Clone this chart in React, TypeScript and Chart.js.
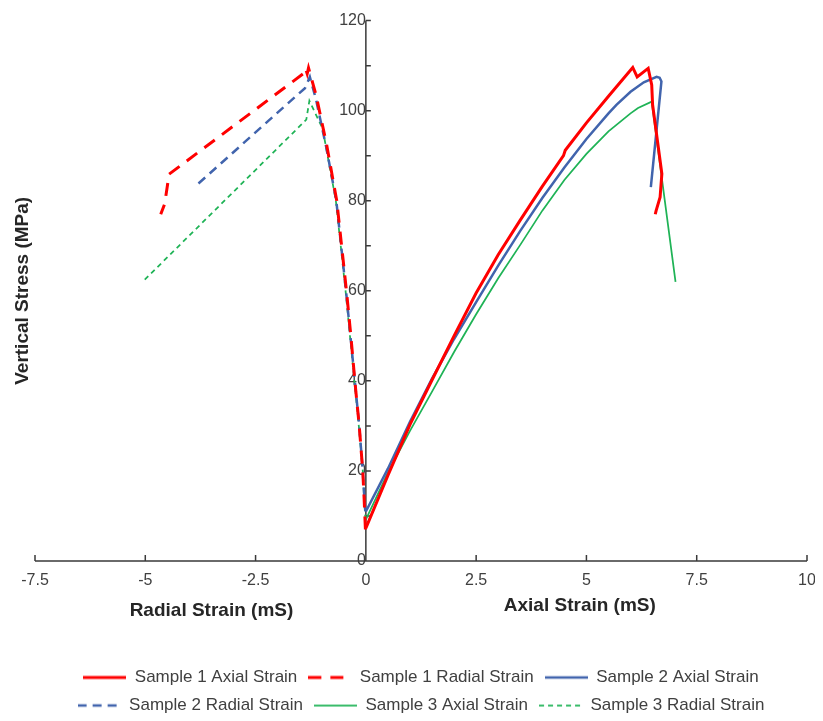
import { useEffect, useRef } from "react";
import { Chart, registerables } from "chart.js";

Chart.register(...registerables);

// Sample 1 – axial strain (mS) vs vertical stress (MPa)
const s1AxialStrain = [0.0, 0.5, 1.0, 1.5, 2.0, 2.5, 3.0, 3.5, 4.0, 4.48, 4.52, 5.0, 5.5, 6.05, 6.15, 6.4, 6.48, 6.5, 6.71, 6.67, 6.58, 6.56];
const s1AxialStress = [7.3, 19.0, 30.3, 40.2, 50.0, 59.5, 68.0, 75.7, 83.2, 90.0, 91.2, 97.3, 103.2, 109.6, 107.5, 109.4, 105.7, 101.3, 86.0, 80.8, 77.8, 77.0];

// Sample 1 – radial strain
const s1RadialStrain = [-0.01, -0.04, -0.07, -0.15, -0.25, -0.34, -0.44, -0.55, -0.66, -0.89, -1.13, -1.3, -1.33, -1.37, -1.42, -4.46, -4.56, -4.65];
const s1RadialStress = [7.0, 14.0, 20.0, 30.0, 40.0, 50.0, 60.0, 70.0, 80.0, 92.5, 103.5, 109.5, 108.2, 109.4, 108.2, 85.9, 79.3, 77.0];

// Sample 2 – axial strain
const s2AxialStrain = [0.0, 0.5, 1.0, 1.5, 2.0, 2.5, 3.0, 3.5, 4.0, 4.5, 5.0, 5.5, 5.68, 6.0, 6.3, 6.59, 6.66, 6.7, 6.46];
const s2AxialStress = [11.0, 20.5, 30.9, 40.5, 49.3, 57.5, 65.6, 73.3, 80.6, 87.4, 93.7, 99.4, 101.3, 104.2, 106.3, 107.5, 107.3, 106.5, 83.0];

// Sample 2 – radial strain
const s2RadialStrain = [-0.01, -0.04, -0.07, -0.15, -0.25, -0.35, -0.45, -0.56, -0.67, -0.9, -1.13, -1.27, -1.38, -3.89];
const s2RadialStress = [11.0, 15.0, 20.0, 30.0, 40.0, 50.0, 60.0, 70.0, 80.0, 92.0, 102.5, 107.5, 105.0, 83.0];

// Sample 3 – axial strain
const s3AxialStrain = [0.0, 0.5, 1.0, 1.5, 2.0, 2.5, 3.0, 3.5, 4.0, 4.5, 5.0, 5.5, 6.0, 6.17, 6.48, 7.02];
const s3AxialStress = [9.2, 19.6, 28.9, 37.6, 46.4, 54.8, 62.8, 70.2, 77.8, 84.6, 90.4, 95.4, 99.4, 100.6, 102.0, 62.0];

// Sample 3 – radial strain
const s3RadialStrain = [-0.01, -0.04, -0.07, -0.16, -0.26, -0.36, -0.46, -0.57, -0.68, -0.98, -1.28, -1.35, -5.06];
const s3RadialStress = [9.2, 14.0, 20.0, 30.0, 40.0, 50.0, 60.0, 70.0, 80.0, 96.0, 102.2, 98.0, 62.0];

const seriesLabels = [
  "Sample 1 Axial Strain",
  "Sample 1 Radial Strain",
  "Sample 2 Axial Strain",
  "Sample 2 Radial Strain",
  "Sample 3 Axial Strain",
  "Sample 3 Radial Strain",
];

const X_MIN = -7.5;
const X_MAX = 10;
const X_STEP = 2.5;
const Y_MIN = 0;
const Y_MAX = 120;
const Y_STEP = 20;
const Y_MINOR_STEP = 10;

const Y_TITLE = "Vertical Stress (MPa)";
const X_TITLE_RADIAL = "Radial Strain (mS)";
const X_TITLE_AXIAL = "Axial Strain (mS)";

const FONT = "'Liberation Sans', Arial, sans-serif";
const TEXT = "#404040";
const AXIS = "#3a3a3a";
const RED = "#ff0000";
const BLUE = "#4164ad";
const GREEN = "#1fb356";

const MARKER_W = 43;

const toPoints = (xs: number[], ys: number[]) => xs.map((x, i) => ({ x, y: ys[i] }));

// Small canvas holding a line sample, used as the legend marker
function makeMarker(color: string, width: number, dash: number[]) {
  const c = document.createElement("canvas");
  c.width = MARKER_W;
  c.height = 8;
  const g = c.getContext("2d")!;
  g.strokeStyle = color;
  g.lineWidth = width;
  g.setLineDash(dash);
  g.beginPath();
  g.moveTo(0, 4);
  g.lineTo(MARKER_W, 4);
  g.stroke();
  return c;
}

// Axis lines crossing at the origin, with their small tick marks, plus the titles
const crossAxesPlugin = {
  id: "crossAxes",
  beforeDatasetsDraw(chart: any) {
    const { ctx } = chart;
    const xs = chart.scales.x;
    const ys = chart.scales.y;
    const x0 = xs.getPixelForValue(0);
    const y0 = ys.getPixelForValue(Y_MIN);
    const yTop = ys.getPixelForValue(Y_MAX);
    ctx.save();
    ctx.strokeStyle = AXIS;
    ctx.lineWidth = 1.5;
    ctx.beginPath();
    ctx.moveTo(xs.left, y0);
    ctx.lineTo(xs.right, y0);
    ctx.moveTo(x0, yTop);
    ctx.lineTo(x0, y0);
    xs.ticks.forEach((t: any) => {
      const px = xs.getPixelForValue(t.value);
      ctx.moveTo(px, y0);
      ctx.lineTo(px, y0 - 6);
    });
    for (let v = Y_MIN + Y_MINOR_STEP; v <= Y_MAX + 1e-9; v += Y_MINOR_STEP) {
      const py = ys.getPixelForValue(v);
      ctx.moveTo(x0, py);
      ctx.lineTo(x0 + 5, py);
    }
    ctx.stroke();
    ctx.restore();
  },
  afterDraw(chart: any) {
    const { ctx, chartArea } = chart;
    const xs = chart.scales.x;
    const ys = chart.scales.y;
    ctx.save();
    ctx.fillStyle = "#262626";
    ctx.font = `bold 19px ${FONT}`;
    ctx.textAlign = "center";
    ctx.textBaseline = "middle";
    ctx.fillText(X_TITLE_RADIAL, xs.getPixelForValue(-3.5), chartArea.bottom + 50);
    ctx.fillText(X_TITLE_AXIAL, xs.getPixelForValue(4.85), chartArea.bottom + 45);
    ctx.translate(15, ys.getPixelForValue((Y_MIN + Y_MAX) / 2));
    ctx.rotate(-Math.PI / 2);
    ctx.fillText(Y_TITLE, 0, 0);
    ctx.restore();
  },
};

export default function App() {
  const canvasRef = useRef<HTMLCanvasElement | null>(null);

  useEffect(() => {
    if (!canvasRef.current) return;
    const datasets = [
      { label: seriesLabels[0], data: toPoints(s1AxialStrain, s1AxialStress), borderColor: RED, borderWidth: 3, borderDash: [] as number[] },
      { label: seriesLabels[1], data: toPoints(s1RadialStrain, s1RadialStress), borderColor: RED, borderWidth: 3, borderDash: [13, 9] },
      { label: seriesLabels[2], data: toPoints(s2AxialStrain, s2AxialStress), borderColor: BLUE, borderWidth: 2.5, borderDash: [] as number[] },
      { label: seriesLabels[3], data: toPoints(s2RadialStrain, s2RadialStress), borderColor: BLUE, borderWidth: 2.5, borderDash: [9, 6] },
      { label: seriesLabels[4], data: toPoints(s3AxialStrain, s3AxialStress), borderColor: GREEN, borderWidth: 1.75, borderDash: [] as number[] },
      { label: seriesLabels[5], data: toPoints(s3RadialStrain, s3RadialStress), borderColor: GREEN, borderWidth: 1.75, borderDash: [5, 4] },
    ];
    const markers = datasets.map((d) => makeMarker(d.borderColor, d.borderWidth, d.borderDash));

    const chart = new Chart(canvasRef.current, {
      type: "scatter",
      data: {
        datasets: datasets.map((d) => ({
          ...d,
          backgroundColor: d.borderColor,
          showLine: true,
          pointRadius: 0,
          pointHoverRadius: 0,
          tension: 0,
          fill: false,
        })),
      },
      options: {
        responsive: false,
        animation: false,
        devicePixelRatio: 1,
        layout: { padding: { left: 27, right: 8, top: 7, bottom: 0 } },
        plugins: {
          tooltip: { enabled: false },
          legend: {
            position: "bottom",
            labels: {
              usePointStyle: true,
              pointStyleWidth: MARKER_W,
              padding: 11,
              color: TEXT,
              font: { family: FONT, size: 17 },
              generateLabels: (c: any) =>
                Chart.defaults.plugins.legend.labels
                  .generateLabels(c)
                  .map((item: any, i: number) => ({ ...item, pointStyle: markers[i], rotation: 0 })),
            },
          },
        },
        scales: {
          x: {
            type: "linear",
            position: "bottom",
            min: X_MIN,
            max: X_MAX,
            grid: { display: false, drawTicks: false },
            border: { display: false },
            ticks: { stepSize: X_STEP, padding: 10, color: TEXT, font: { family: FONT, size: 16 } },
            afterFit: (scale: any) => {
              scale.height = 97;
              scale.paddingLeft = 0;
              scale.paddingRight = 0;
            },
          },
          y: {
            type: "linear",
            position: { x: 0 },
            min: Y_MIN,
            max: Y_MAX,
            grid: { display: false, drawTicks: false },
            border: { display: false },
            ticks: { stepSize: Y_STEP, color: TEXT, font: { family: FONT, size: 16 } },
          },
        },
      },
      plugins: [crossAxesPlugin],
    } as any);
    return () => chart.destroy();
  }, []);

  return (
    <div style={{ width: 807, height: 705, overflow: "hidden" }}>
      <canvas ref={canvasRef} width={807} height={716} style={{ display: "block" }} />
    </div>
  );
}
